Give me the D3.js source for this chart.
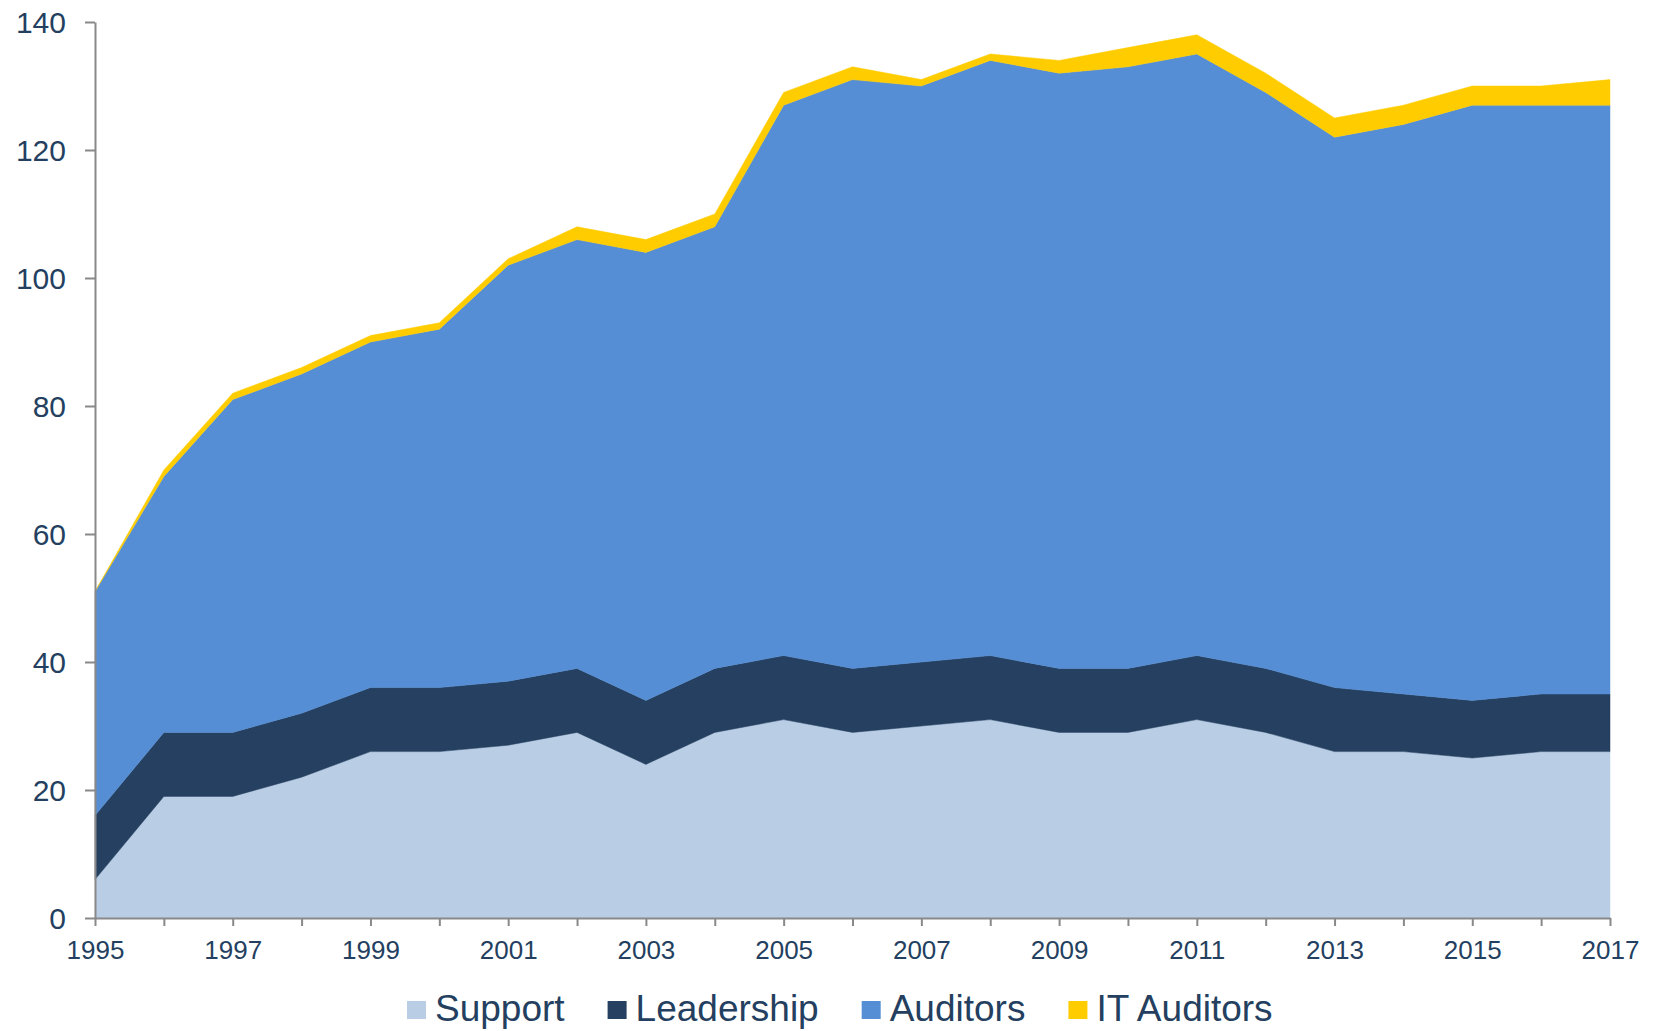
<!DOCTYPE html>
<html>
<head>
<meta charset="utf-8">
<script src="https://cdn.jsdelivr.net/npm/d3@7"></script>
<style>
    body { margin: 0; background: #fff; }
    svg { display: block; font-family: "Liberation Sans", Arial, sans-serif; }
</style>
</head>
<body>
<div id="chart"></div>
<script>
// values
var years = [1995, 1996, 1997, 1998, 1999, 2000, 2001, 2002, 2003, 2004, 2005, 2006,
             2007, 2008, 2009, 2010, 2011, 2012, 2013, 2014, 2015, 2016, 2017]
var support    = [6, 19, 19, 22, 26, 26, 27, 29, 24, 29, 31, 29, 30, 31, 29, 29, 31, 29, 26, 26, 25, 26, 26]
var leadership = [10, 10, 10, 10, 10, 10, 10, 10, 10, 10, 10, 10, 10, 10, 10, 10, 10, 10, 10, 9, 9, 9, 9]
var auditors   = [35, 40, 52, 53, 54, 56, 65, 67, 70, 69, 86, 92, 90, 93, 93, 94, 94, 90, 86, 89, 93, 92, 92]
var itAuditors = [0, 1, 1, 1, 1, 1, 1, 2, 2, 2, 2, 2, 1, 1, 2, 3, 3, 3, 3, 3, 3, 3, 4]

var seriesNames = ['Support', 'Leadership', 'Auditors', 'IT Auditors']
var seriesColors = ['#b9cde5', '#254061', '#558ed5', '#ffcc00']
var yTicks = [0, 20, 40, 60, 80, 100, 120, 140]
var xLabelYears = years.filter((y, i) => i % 2 === 0)

var W = 1659, H = 1031
var margin = { top: 22, right: 49, bottom: 113, left: 95 }
var textColor = '#243f60'
var axisColor = '#898989'

var data = years.map((y, i) => ({
    year: y,
    'Support': support[i],
    'Leadership': leadership[i],
    'Auditors': auditors[i],
    'IT Auditors': itAuditors[i]
}))

var svg = d3.select('#chart')
    .append('svg')
    .attr('width', W)
    .attr('height', H)

var x = d3.scaleLinear()
    .domain(d3.extent(years))
    .range([margin.left, W - margin.right])

var y = d3.scaleLinear()
    .domain([0, 140])
    .range([H - margin.bottom, margin.top])

var z = d3.scaleOrdinal()
    .domain(seriesNames)
    .range(seriesColors)

var stack = d3.stack().keys(seriesNames)
var series = stack(data)

var area = d3.area()
    .x(d => x(d.data.year))
    .y0(d => y(d[0]))
    .y1(d => y(d[1]))

svg.append('g')
    .selectAll('path')
    .data(series)
    .enter().append('path')
    .attr('fill', d => z(d.key))
    .attr('stroke', d => z(d.key))
    .attr('stroke-width', 0.5)
    .attr('d', area)

// y axis
var yAxis = svg.append('g')
    .attr('transform', `translate(${margin.left},0)`)
    .call(d3.axisLeft(y).tickValues(yTicks).tickSize(10).tickPadding(19).tickSizeOuter(0))
yAxis.select('.domain').attr('stroke', axisColor).attr('stroke-width', 2)
yAxis.selectAll('.tick line').attr('stroke', axisColor).attr('stroke-width', 2)
yAxis.selectAll('.tick text')
    .attr('fill', textColor)
    .attr('font-size', 30)
    .attr('dy', '0.36em')

// x axis
var xAxis = svg.append('g')
    .attr('transform', `translate(0,${y(0)})`)
    .call(d3.axisBottom(x).tickValues(years).tickSize(8).tickSizeOuter(0)
        .tickFormat(d => xLabelYears.includes(d) ? d : ''))
xAxis.select('.domain').attr('stroke', axisColor).attr('stroke-width', 2)
xAxis.selectAll('.tick line').attr('stroke', axisColor).attr('stroke-width', 2)
xAxis.selectAll('.tick text')
    .attr('fill', textColor)
    .attr('font-size', 26)
    .attr('y', 41)
    .attr('dy', 0)

// legend
var legend = svg.append('g').attr('class', 'legend')
var lx = 407
seriesNames.forEach((name, i) => {
    var g = legend.append('g').attr('transform', `translate(${lx},0)`)
    g.append('rect')
        .attr('x', 0)
        .attr('y', 1001)
        .attr('width', 19)
        .attr('height', 18)
        .attr('fill', z(name))
    var t = g.append('text')
        .attr('x', 28)
        .attr('y', 1021)
        .attr('fill', textColor)
        .attr('font-size', 37)
        .text(name)
    lx += 28 + t.node().getComputedTextLength() + 43
})
</script>
</body>
</html>
